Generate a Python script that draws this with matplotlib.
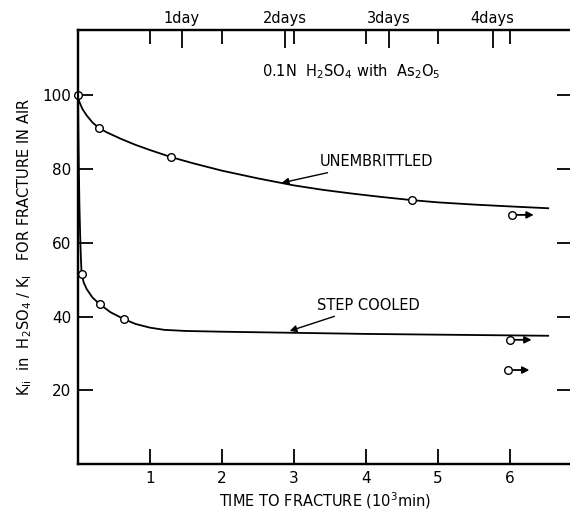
import matplotlib
matplotlib.use("Agg")
import matplotlib.pyplot as plt

plt.rcParams['font.family'] = ['DejaVu Sans']
plt.rcParams['mathtext.default'] = 'regular'

# curve shapes (x in 10^3 min, y = KIi/KI in %)
unemb_x = [0, 0.02, 0.06, 0.12, 0.2, 0.29, 0.4, 0.6, 0.8, 1.0, 1.29, 1.6, 2.0, 2.5,
           3.0, 3.4, 3.8, 4.2, 4.64, 5.0, 5.5, 6.0, 6.53]
unemb_y = [100, 98.2, 96.4, 94.6, 92.7, 91.2, 90.0, 88.2, 86.6, 85.2, 83.3, 81.6, 79.6, 77.5,
           75.6, 74.4, 73.4, 72.5, 71.6, 71.0, 70.4, 69.9, 69.4]

step_x = [0, 0.005, 0.012, 0.02, 0.03, 0.04, 0.05, 0.08, 0.12, 0.2, 0.3, 0.45, 0.64, 0.8,
          1.0, 1.2, 1.5, 2.0, 3.0, 4.0, 5.0, 6.53]
step_y = [100, 90, 80, 70, 62, 56, 51.6, 49.2, 47.5, 45.2, 43.4, 41.2, 39.3, 38.0,
          37.0, 36.4, 36.1, 35.9, 35.6, 35.3, 35.1, 34.8]

# measured points
unemb_pts_x = [0, 0.29, 1.29, 4.64]
unemb_pts_y = [100, 91.2, 83.3, 71.6]
step_pts_x = [0.05, 0.3, 0.64]
step_pts_y = [51.6, 43.4, 39.3]

# run-outs (no fracture), marked with arrows
runout_x = [6.03, 6.0, 5.97]
runout_y = [67.6, 33.7, 25.5]

day_ticks = [1.44, 2.88, 4.32, 5.76]
day_labels = ["1day", "2days", "3days", "4days"]
x_ticks = [1, 2, 3, 4, 5, 6]
y_ticks = [20, 40, 60, 80, 100]

fig = plt.figure(figsize=(5.7, 5.12), dpi=100)
ax = fig.add_axes([78/570, 48/512, 494/570, 434/512])

ax.plot(unemb_x, unemb_y, color='black', lw=1.3)
ax.plot(step_x, step_y, color='black', lw=1.3)
ax.plot(unemb_pts_x + step_pts_x, unemb_pts_y + step_pts_y, 'o', ms=5.5,
        mfc='white', mec='black', mew=1.0, clip_on=False, zorder=5)
ax.plot(runout_x, runout_y, 'o', ms=5.5, mfc='white', mec='black', mew=1.0, zorder=5)
for rx, ry in zip(runout_x, runout_y):
    ax.annotate("", xy=(rx + 0.3, ry), xytext=(rx + 0.05, ry),
                arrowprops=dict(arrowstyle='-|>', color='black', lw=1.3,
                                mutation_scale=10, shrinkA=0, shrinkB=0))

ax.annotate("UNEMBRITTLED", xy=(2.83, 76.3), xytext=(3.36, 82), fontsize=10.5,
            va='center', ha='left',
            arrowprops=dict(arrowstyle='-|>', color='black', lw=1.0,
                            mutation_scale=10, shrinkA=2, shrinkB=0))
ax.annotate("STEP COOLED", xy=(2.94, 36.1), xytext=(3.32, 43.1), fontsize=10.5,
            va='center', ha='left',
            arrowprops=dict(arrowstyle='-|>', color='black', lw=1.0,
                            mutation_scale=10, shrinkA=2, shrinkB=0))
ax.text(2.56, 106.4, r"0.1N  H$_2$SO$_4$ with  As$_2$O$_5$", fontsize=10.5,
        va='center', ha='left')

ax.set_xlim(0, 494/72)
ax.set_ylim(0, 434/3.685)
ax.set_xticks(x_ticks)
ax.set_yticks(y_ticks)
ax.tick_params(axis='both', direction='in', length=11, width=1.3, labelsize=11, pad=5)
ax.tick_params(axis='y', right=True, labelright=False)
for s in ax.spines.values():
    s.set_linewidth(1.6)

ax.set_xlabel(r"TIME TO FRACTURE (10$^3$min)", fontsize=10.5, labelpad=3)
ax.set_ylabel(r"K$_{Ii}$  in  H$_2$SO$_4$ / K$_I$   FOR FRACTURE IN AIR", fontsize=10.5,
              labelpad=6)

ax2 = ax.twiny()
ax2.set_xlim(ax.get_xlim())
ax2.set_xticks(day_ticks)
ax2.set_xticklabels(day_labels)
ax2.set_xticks(x_ticks, minor=True)
ax2.tick_params(axis='x', which='major', direction='in', length=13, width=1.3,
                labelsize=10.5, pad=3)
ax2.tick_params(axis='x', which='minor', direction='in', length=10, width=1.3)
for s in ax2.spines.values():
    s.set_linewidth(1.6)

fig.savefig("out.png", dpi=100)
